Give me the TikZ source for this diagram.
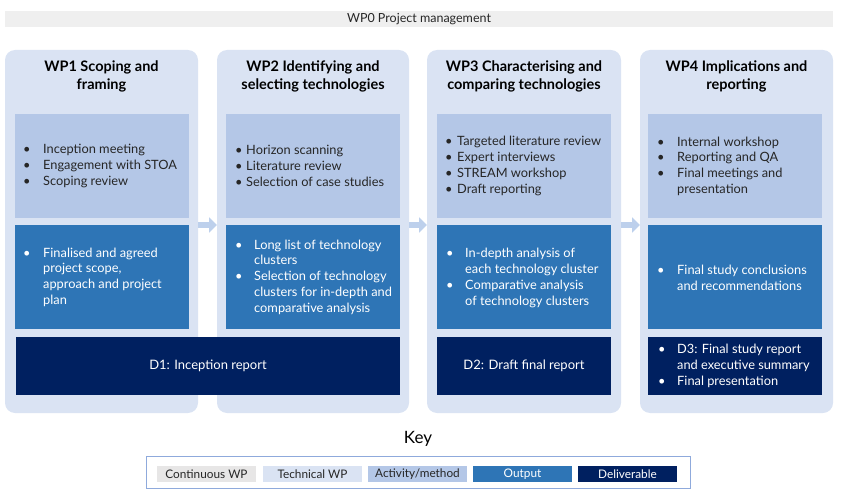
\documentclass[tikz,border=0pt]{standalone}
\usepackage{fontspec}
\setmainfont{Lato}
\usetikzlibrary{arrows.meta}
\definecolor{contc}{HTML}{EFEFEF}
\definecolor{keycont}{HTML}{E7E6E6}
\definecolor{techc}{HTML}{DAE3F3}
\definecolor{actc}{HTML}{B4C7E7}
\definecolor{arrc}{HTML}{BDD0EC}
\definecolor{outc}{HTML}{2E75B6}
\definecolor{delc}{HTML}{002060}
\definecolor{keyb}{HTML}{8FAADC}
\definecolor{txtc}{HTML}{262626}
\newcommand\bl[1]{\makebox[#1pt][l]{\textbullet}}
\newcommand\ind[1]{\hspace*{#1pt}}
\begin{document}
\begin{tikzpicture}[x=1pt,y=-1pt,
  box/.style={anchor=north west, inner sep=0pt, outer sep=0pt},
  panel/.style={box, fill=techc, rounded corners=10pt, minimum height=363pt},
  actbox/.style={box, fill=actc, minimum width=174pt, minimum height=104pt},
  outbox/.style={box, fill=outc, minimum width=174pt, minimum height=104pt},
  delbox/.style={box, fill=delc, minimum height=58pt, text=white, font=\fontsize{13}{15.7}\selectfont},
  titletext/.style={font=\fontsize{14.5}{18}\selectfont\bfseries, align=center, text=black, inner sep=0pt},
  btext/.style={anchor=west, inner sep=0pt, align=left, font=\fontsize{12.8}{15.7}\selectfont},
  darktext/.style={btext, text=txtc},
  whitetext/.style={btext, text=white},
  barrow/.style={draw=arrc, line width=6pt, -{Triangle[length=8pt,width=15pt]}},
  keysw/.style={box, minimum width=99pt, minimum height=16pt, font=\fontsize{11.8}{14}\selectfont}
]
\useasboundingbox (0,0) rectangle (851,500);

% WP0 bar
\node[box, fill=contc, minimum width=828pt, minimum height=16pt, text=txtc, font=\fontsize{12.5}{14}\selectfont] (wp0) at (5,11) {WP0 Project management};

% panels
\node[panel, minimum width=193pt] (wp1) at (5,50) {};
\node[panel, minimum width=192pt] (wp2) at (217,50) {};
\node[panel, minimum width=194pt] (wp3) at (427,50) {};
\node[panel, minimum width=193pt] (wp4) at (640,50) {};

% titles
\node[titletext] (t1) at (101.5,76) {WP1 Scoping and\\framing};
\node[titletext] (t2) at (313,76) {WP2 Identifying and\\selecting technologies};
\node[titletext] (t3) at (524,76) {WP3 Characterising and\\comparing technologies};
\node[titletext] (t4) at (736.5,76) {WP4 Implications and\\reporting};

% activity boxes
\node[actbox] (a1) at (15,114) {};
\node[actbox] (a2) at (226,114) {};
\node[actbox] (a3) at (437,114) {};
\node[actbox] (a4) at (648,114) {};

% output boxes
\node[outbox] (o1) at (15,225) {};
\node[outbox] (o2) at (226,225) {};
\node[outbox] (o3) at (437,225) {};
\node[outbox] (o4) at (648,225) {};

% deliverables
\node[delbox, minimum width=384pt] (d1) at (16,337) {D1: Inception report};
\node[delbox, minimum width=174pt] (d2) at (437,337) {D2: Draft final report};
\node[delbox, minimum width=174pt] (d3) at (648,337) {};

% activity texts
\node[darktext] (a1t) at (23,166) {\bl{20}Inception meeting\\\bl{20}Engagement with STOA\\\bl{20}Scoping review};
\node[darktext] (a2t) at (235,166) {\bl{11}Horizon scanning\\\bl{11}Literature review\\\bl{11}Selection of case studies};
\node[darktext] (a3t) at (445,166) {\bl{12}Targeted literature review\\\bl{12}Expert interviews\\\bl{12}STREAM workshop\\\bl{12}Draft reporting};
\node[darktext] (a4t) at (657,166) {\bl{20}Internal workshop\\\bl{20}Reporting and QA\\\bl{20}Final meetings and\\\ind{20}presentation};

% output texts
\node[whitetext] (o1t) at (23,277) {\bl{20}Finalised and agreed\\\ind{20}project scope,\\\ind{20}approach and project\\\ind{20}plan};
\node[whitetext] (o2t) at (235,277) {\bl{19}Long list of technology\\\ind{19}clusters\\\bl{19}Selection of technology\\\ind{19}clusters for in-depth and\\\ind{19}comparative analysis};
\node[whitetext] (o3t) at (446,278) {\bl{19}In-depth analysis of\\\ind{19}each technology cluster\\\bl{19}Comparative analysis\\\ind{19}of technology clusters};
\node[whitetext] (o4t) at (657,278) {\bl{20}Final study conclusions\\\ind{20}and recommendations};

% D3 text
\node[whitetext] (d3t) at (658,366) {\bl{19}D3: Final study report\\\ind{19}and executive summary\\\bl{19}Final presentation};

% arrows
\draw[barrow] (wp1.east |- o1.north) -- (wp2.west |- o1.north);
\draw[barrow] (wp2.east |- o1.north) -- (wp3.west |- o1.north);
\draw[barrow] (wp3.east |- o1.north) -- (wp4.west |- o1.north);

% key
\node[font=\fontsize{17}{20}\selectfont, text=black, inner sep=0pt] (keyt) at (418,439) {Key};
\node[box, draw=keyb, line width=0.8pt, minimum width=544pt, minimum height=32pt] (key) at (146,456) {};
\node[keysw, fill=keycont, text=txtc] (k1) at (157,466) {Continuous WP};
\node[keysw, fill=techc, text=txtc] (k2) at (263,466) {Technical WP};
\node[keysw, fill=actc, text=txtc] (k3) at (368,466) {Activity/method};
\node[keysw, fill=outc, text=white] (k4) at (473,466) {Output};
\node[keysw, fill=delc, text=white] (k5) at (578,466) {Deliverable};
\end{tikzpicture}
\end{document}
